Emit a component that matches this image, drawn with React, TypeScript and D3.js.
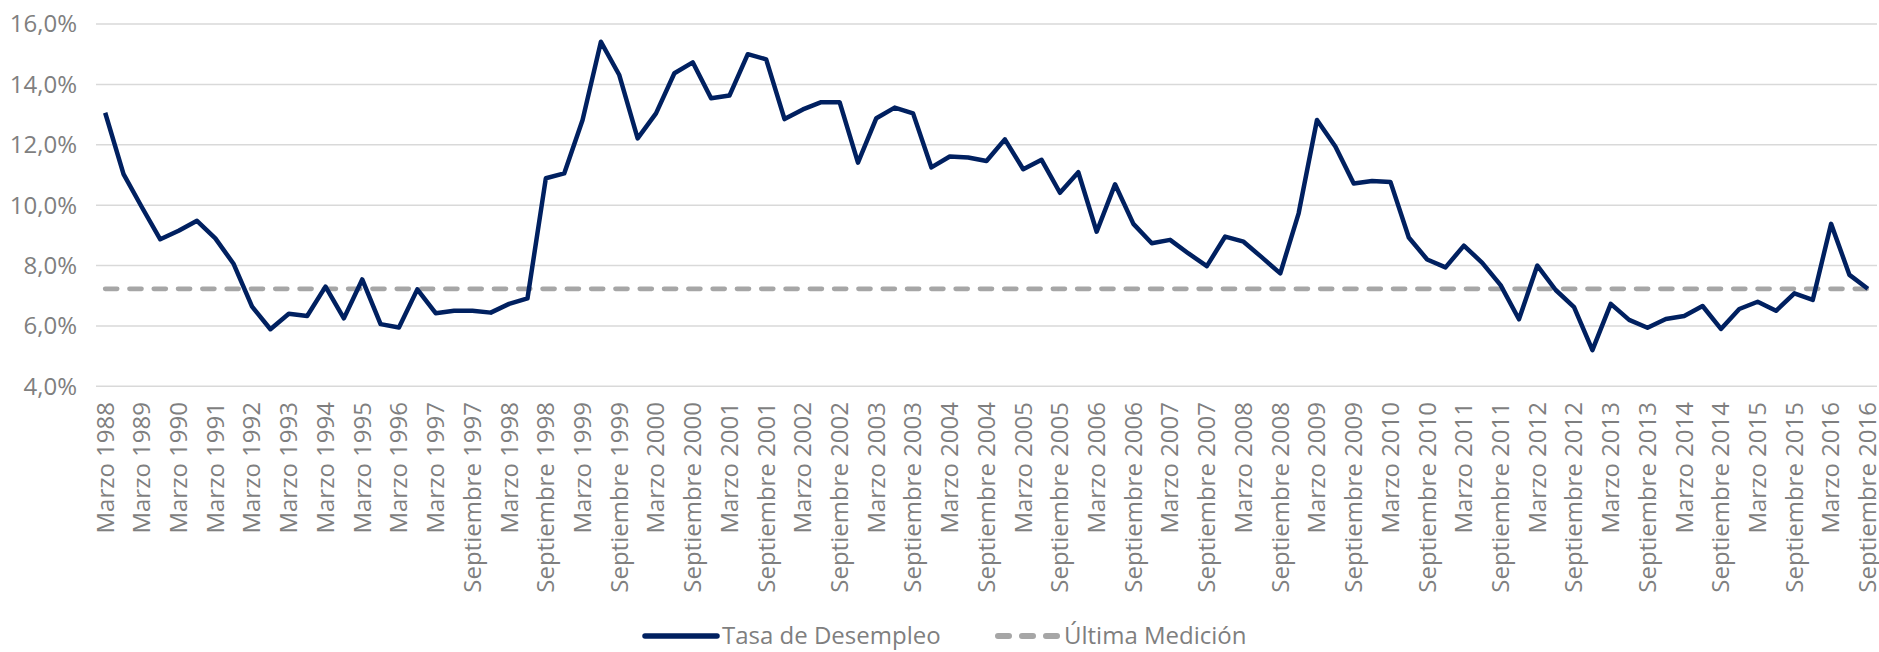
/**
 * Tasa de desempleo (semestral hasta 1997, trimestral después) con línea de última medición.
 */

import { useEffect, useRef } from "react";
import * as d3 from "d3";

const WIDTH = 1879;
const HEIGHT = 652;
const PLOT = { left: 96, right: 1877, top: 24, bottom: 386.3 };

const FONT = "'Open Sans', 'Noto Sans', sans-serif";
const TEXT_FILL = "#7f7f7f";
const GRID_STROKE = "#d9d9d9";
const LINE_STROKE = "#002060";
const LAST_STROKE = "#a6a6a6";

const categories = [
  "Marzo 1988", "Septiembre 1988", "Marzo 1989", "Septiembre 1989",
  "Marzo 1990", "Septiembre 1990", "Marzo 1991", "Septiembre 1991",
  "Marzo 1992", "Septiembre 1992", "Marzo 1993", "Septiembre 1993",
  "Marzo 1994", "Septiembre 1994", "Marzo 1995", "Septiembre 1995",
  "Marzo 1996", "Septiembre 1996", "Marzo 1997", "Junio 1997",
  "Septiembre 1997", "Diciembre 1997", "Marzo 1998", "Junio 1998",
  "Septiembre 1998", "Diciembre 1998", "Marzo 1999", "Junio 1999",
  "Septiembre 1999", "Diciembre 1999", "Marzo 2000", "Junio 2000",
  "Septiembre 2000", "Diciembre 2000", "Marzo 2001", "Junio 2001",
  "Septiembre 2001", "Diciembre 2001", "Marzo 2002", "Junio 2002",
  "Septiembre 2002", "Diciembre 2002", "Marzo 2003", "Junio 2003",
  "Septiembre 2003", "Diciembre 2003", "Marzo 2004", "Junio 2004",
  "Septiembre 2004", "Diciembre 2004", "Marzo 2005", "Junio 2005",
  "Septiembre 2005", "Diciembre 2005", "Marzo 2006", "Junio 2006",
  "Septiembre 2006", "Diciembre 2006", "Marzo 2007", "Junio 2007",
  "Septiembre 2007", "Diciembre 2007", "Marzo 2008", "Junio 2008",
  "Septiembre 2008", "Diciembre 2008", "Marzo 2009", "Junio 2009",
  "Septiembre 2009", "Diciembre 2009", "Marzo 2010", "Junio 2010",
  "Septiembre 2010", "Diciembre 2010", "Marzo 2011", "Junio 2011",
  "Septiembre 2011", "Diciembre 2011", "Marzo 2012", "Junio 2012",
  "Septiembre 2012", "Diciembre 2012", "Marzo 2013", "Junio 2013",
  "Septiembre 2013", "Diciembre 2013", "Marzo 2014", "Junio 2014",
  "Septiembre 2014", "Diciembre 2014", "Marzo 2015", "Junio 2015",
  "Septiembre 2015", "Diciembre 2015", "Marzo 2016", "Junio 2016",
  "Septiembre 2016",
];

// Tasa de desempleo (%)
const tasaDesempleo = [
  13.06, 11.03, 9.93, 8.87, 9.15, 9.48, 8.9, 8.05, 6.64, 5.89,
  6.4, 6.33, 7.3, 6.25, 7.54, 6.06, 5.95, 7.21, 6.42, 6.5,
  6.5, 6.44, 6.73, 6.91, 10.89, 11.05, 12.82, 15.41, 14.31, 12.21,
  13.04, 14.37, 14.73, 13.54, 13.63, 15.0, 14.83, 12.85, 13.17, 13.41,
  13.41, 11.41, 12.88, 13.23, 13.04, 11.25, 11.61, 11.58, 11.46, 12.18,
  11.19, 11.5, 10.41, 11.09, 9.12, 10.69, 9.38, 8.74, 8.85, 8.4,
  7.98, 8.96, 8.79, 8.27, 7.74, 9.73, 12.82, 11.94, 10.72, 10.8,
  10.77, 8.93, 8.2, 7.94, 8.66, 8.09, 7.35, 6.22, 8.0, 7.19,
  6.62, 5.2, 6.73, 6.2, 5.94, 6.23, 6.33, 6.66, 5.9, 6.56,
  6.8, 6.5, 7.08, 6.86, 9.38, 7.69, 7.23,
];

const ultimaMedicion = 7.23;

const yTicks = [4, 6, 8, 10, 12, 14, 16];

const legendItems = [
  { label: "Tasa de Desempleo", dashed: false },
  { label: "Última Medición", dashed: true },
];

const fmtPct = (v: number) => `${v.toFixed(1).replace(".", ",")}%`;

export default function App() {
  const svgRef = useRef<SVGSVGElement | null>(null);

  useEffect(() => {
    const svg = d3.select(svgRef.current);
    svg.selectAll("*").remove();
    svg.attr("viewBox", `0 0 ${WIDTH} ${HEIGHT}`).attr("width", WIDTH).attr("height", HEIGHT);

    const x = d3
      .scalePoint<string>()
      .domain(categories)
      .range([PLOT.left, PLOT.right])
      .padding(0.5);

    const y = d3.scaleLinear().domain([4, 16]).range([PLOT.bottom, PLOT.top]);

    // gridlines
    svg
      .append("g")
      .selectAll("line")
      .data(yTicks)
      .join("line")
      .attr("x1", PLOT.left)
      .attr("x2", PLOT.right)
      .attr("y1", (d) => y(d))
      .attr("y2", (d) => y(d))
      .attr("stroke", GRID_STROKE)
      .attr("stroke-width", 1.5);

    // y labels
    svg
      .append("g")
      .selectAll("text")
      .data(yTicks)
      .join("text")
      .attr("x", 77)
      .attr("y", (d) => y(d))
      .attr("dy", "0.35em")
      .attr("text-anchor", "end")
      .attr("font-family", FONT)
      .attr("font-size", 24)
      .attr("fill", TEXT_FILL)
      .text((d) => fmtPct(d));

    // x labels, every other category
    const shown = categories.filter((_, i) => i % 2 === 0);
    const labelTop = 402;
    svg
      .append("g")
      .selectAll("text")
      .data(shown)
      .join("text")
      .attr("x", (d) => x(d) ?? 0)
      .attr("y", labelTop)
      .attr("dy", "0.35em")
      .attr("text-anchor", "end")
      .attr("transform", (d) => `rotate(-90 ${x(d) ?? 0} ${labelTop})`)
      .attr("font-family", FONT)
      .attr("font-size", 24)
      .attr("fill", TEXT_FILL)
      .text((d) => d);

    // última medición
    const first = x(categories[0]) ?? 0;
    const last = x(categories[categories.length - 1]) ?? 0;
    svg
      .append("line")
      .attr("x1", first)
      .attr("x2", last)
      .attr("y1", y(ultimaMedicion))
      .attr("y2", y(ultimaMedicion))
      .attr("stroke", LAST_STROKE)
      .attr("stroke-width", 4.7)
      .attr("stroke-dasharray", "12 12.3")
      .attr("stroke-linecap", "round");

    const line = d3
      .line<number>()
      .x((_, i) => x(categories[i]) ?? 0)
      .y((d) => y(d));

    svg
      .append("path")
      .attr("d", line(tasaDesempleo))
      .attr("fill", "none")
      .attr("stroke", LINE_STROKE)
      .attr("stroke-width", 4.5)
      .attr("stroke-linejoin", "round");

    // legend
    const legendY = 636;
    const lg = svg.append("g").attr("font-family", FONT).attr("font-size", 24).attr("fill", TEXT_FILL);
    const legendX = [645, 998];
    legendItems.forEach((item, i) => {
      const x0 = legendX[i];
      lg.append("line")
        .attr("x1", x0)
        .attr("x2", x0 + (item.dashed ? 59 : 72))
        .attr("y1", legendY)
        .attr("y2", legendY)
        .attr("stroke", item.dashed ? LAST_STROKE : LINE_STROKE)
        .attr("stroke-width", item.dashed ? 6 : 5.5)
        .attr("stroke-dasharray", item.dashed ? "11 13" : null)
        .attr("stroke-linecap", "round");
      lg.append("text")
        .attr("x", x0 + (item.dashed ? 66 : 77))
        .attr("y", legendY)
        .attr("dy", "0.35em")
        .text(item.label);
    });
  }, []);

  return (
    <div style={{ position: "absolute", left: 0, top: 0, background: "#fff" }}>
      <svg ref={svgRef} role="img" aria-label="Tasa de desempleo" style={{ display: "block" }} />
    </div>
  );
}
